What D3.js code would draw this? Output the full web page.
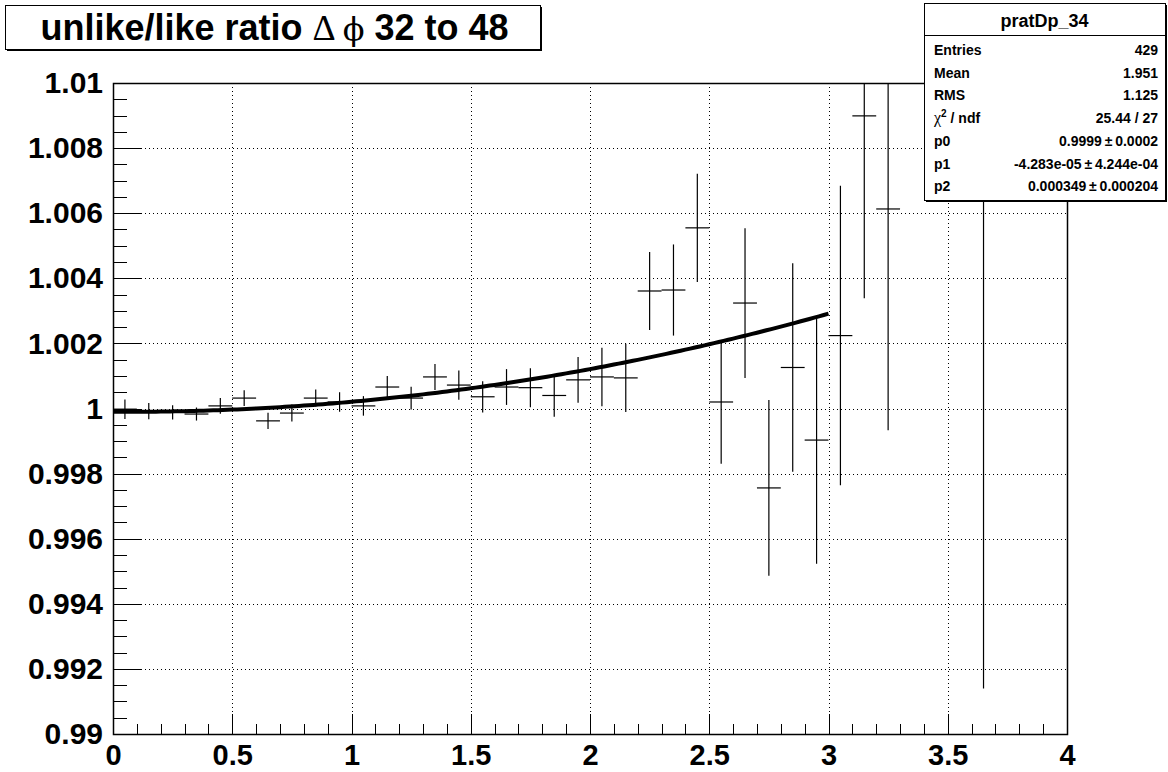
<!DOCTYPE html>
<html>
<head>
<meta charset="utf-8">
<script src="https://cdn.jsdelivr.net/npm/d3@7"></script>
<style>
  body { margin: 0; background: #fff; }
  svg { display: block; font-family: 'Liberation Sans', Arial, sans-serif; }
  .grid line { stroke: #000; stroke-width: 1; stroke-dasharray: 1, 3; }
  .axis path, .axis line { stroke: #000; stroke-width: 1; shape-rendering: crispEdges; }
  .axis text { font-size: 30px; font-weight: bold; fill: #000; }
  .xaxis text { font-size: 29px; }
  .bar { stroke: #000; stroke-width: 1.2; }
</style>
</head>
<body>
<div id="chart"></div>
<script>
// bin centres (width 0.1) with content
const binCenters = [0.05, 0.15, 0.25, 0.35, 0.45, 0.55, 0.65, 0.75, 0.85, 0.95,
  1.05, 1.15, 1.25, 1.35, 1.45, 1.55, 1.65, 1.75, 1.85, 1.95,
  2.05, 2.15, 2.25, 2.35, 2.45, 2.55, 2.65, 2.75, 2.85, 2.95,
  3.05, 3.15, 3.25, 3.65]
const binValues = [0.99998, 0.99992, 0.99988, 0.99983, 1.00008, 1.00032, 0.99962, 0.99986, 1.00032, 1.0002,
  1.00008, 1.00066, 1.00032, 1.00097, 1.00072, 1.00036, 1.00066, 1.00064, 1.0004, 1.00088,
  1.00097, 1.00094, 1.00361, 1.00364, 1.00555, 1.0002, 1.00324, 0.99756, 1.00126, 0.99903,
  1.00224, 1.00899, 1.00613, 1.012]
const binErrors = [0.0003, 0.00025, 0.00022, 0.0002, 0.00024, 0.00024, 0.00025, 0.00026, 0.00026, 0.0003,
  0.0003, 0.00034, 0.00035, 0.0004, 0.00045, 0.00048, 0.00055, 0.0006, 0.00065, 0.0007,
  0.0009, 0.00105, 0.0012, 0.0014, 0.00166, 0.0019, 0.0023, 0.0027, 0.0032, 0.0038,
  0.0046, 0.0056, 0.0068, 0.0206]
const binWidth = 0.1

// pol2 fit, parameters from the stats box
const fitParams = [0.9999, -4.283e-05, 0.000349]
const fitRange = [0, 3]

const xTicks = [0, 0.5, 1, 1.5, 2, 2.5, 3, 3.5, 4]
const yTicks = [0.99, 0.992, 0.994, 0.996, 0.998, 1, 1.002, 1.004, 1.006, 1.008, 1.01]

const statLabels = ['Entries', 'Mean', 'RMS', 'chi2', 'p0', 'p1', 'p2']
const statValues = ['429', '1.951', '1.125', '25.44 / 27', '0.9999\u2009\u00b1\u20090.0002',
  '-4.283e-05\u2009\u00b1\u20094.244e-04', '0.000349\u2009\u00b1\u20090.000204']

const width = 1168
const height = 772
const frame = { left: 113, right: 1067, top: 83, bottom: 734 }

const x = d3.scaleLinear().domain([0, 4]).range([frame.left, frame.right])
const y = d3.scaleLinear().domain([0.99, 1.01]).range([frame.bottom, frame.top])

const svg = d3.select('#chart').append('svg')
  .attr('width', width)
  .attr('height', height)

svg.append('defs').append('clipPath').attr('id', 'clip')
  .append('rect')
  .attr('x', frame.left).attr('y', frame.top)
  .attr('width', frame.right - frame.left).attr('height', frame.bottom - frame.top)

// grid
const grid = svg.append('g').attr('class', 'grid')
grid.selectAll('line.gx').data(xTicks.slice(1, -1)).enter().append('line')
  .attr('x1', d => Math.round(x(d)) + 0.5).attr('x2', d => Math.round(x(d)) + 0.5)
  .attr('y1', frame.top).attr('y2', frame.bottom)
grid.selectAll('line.gy').data(yTicks.slice(1, -1)).enter().append('line')
  .attr('y1', d => Math.round(y(d)) + 0.5).attr('y2', d => Math.round(y(d)) + 0.5)
  .attr('x1', frame.left).attr('x2', frame.right)

// axes: minor ticks then major with labels, ticks point inward
svg.append('g').attr('class', 'axis')
  .attr('transform', 'translate(0,' + frame.bottom + ')')
  .call(d3.axisBottom(x).ticks(40).tickSize(-10).tickFormat(''))
  .call(g => g.select('.domain').remove())
svg.append('g').attr('class', 'axis xaxis')
  .attr('transform', 'translate(0,' + frame.bottom + ')')
  .call(d3.axisBottom(x).tickValues(xTicks).tickSize(-20).tickPadding(0).tickFormat(d3.format('~g')))
  .call(g => g.select('.domain').remove())
  .call(g => g.selectAll('text').attr('y', 31).attr('dy', null))

svg.append('g').attr('class', 'axis')
  .attr('transform', 'translate(' + frame.left + ',0)')
  .call(d3.axisLeft(y).ticks(50).tickSize(-14).tickFormat(''))
  .call(g => g.select('.domain').remove())
svg.append('g').attr('class', 'axis yaxis')
  .attr('transform', 'translate(' + frame.left + ',0)')
  .call(d3.axisLeft(y).tickValues(yTicks).tickSize(-28).tickPadding(10).tickFormat(d3.format('~g')))
  .call(g => g.select('.domain').remove())

// frame
svg.append('rect')
  .attr('x', frame.left + 0.5).attr('y', frame.top + 0.5)
  .attr('width', frame.right - frame.left).attr('height', frame.bottom - frame.top)
  .attr('fill', 'none').attr('stroke', '#000').attr('stroke-width', 1.5)

// histogram points with error bars
const plot = svg.append('g').attr('clip-path', 'url(#clip)')
const bins = binCenters.map((c, i) => ({ c: c, v: binValues[i], e: binErrors[i] }))

plot.selectAll('line.h').data(bins).enter().append('line')
  .attr('class', 'bar')
  .attr('x1', d => x(d.c - binWidth / 2)).attr('x2', d => x(d.c + binWidth / 2))
  .attr('y1', d => y(d.v)).attr('y2', d => y(d.v))
plot.selectAll('line.v').data(bins).enter().append('line')
  .attr('class', 'bar')
  .attr('x1', d => x(d.c)).attr('x2', d => x(d.c))
  .attr('y1', d => y(d.v - d.e)).attr('y2', d => y(d.v + d.e))

// fit curve
const fitX = d3.range(fitRange[0], fitRange[1] + 1e-9, 0.02)
plot.append('path')
  .datum(fitX)
  .attr('fill', 'none')
  .attr('stroke', '#000')
  .attr('stroke-width', 4)
  .attr('d', d3.line()
    .x(d => x(d))
    .y(d => y(fitParams[0] + fitParams[1] * d + fitParams[2] * d * d)))

// title pave
const tb = { x: 5, y: 5, w: 535, h: 44 }
svg.append('rect').attr('x', tb.x + 2).attr('y', tb.y + 2).attr('width', tb.w).attr('height', tb.h).attr('fill', '#000')
svg.append('rect').attr('x', tb.x + 0.5).attr('y', tb.y + 0.5).attr('width', tb.w).attr('height', tb.h)
  .attr('fill', '#fff').attr('stroke', '#000')
const title = svg.append('text')
  .attr('x', tb.x + tb.w / 2 + 2).attr('y', tb.y + 35)
  .attr('text-anchor', 'middle')
  .attr('font-size', 36).attr('font-weight', 'bold')
title.append('tspan').text('unlike/like ratio ')
title.append('tspan').attr('font-family', 'Liberation Serif').attr('font-weight', 'normal').text('\u0394 ')
title.append('tspan').attr('font-family', 'DejaVu Serif').attr('font-weight', 'normal').attr('font-size', 32).text('\u03d5')
title.append('tspan').text(' 32 to 48')

// stats box
const sb = { x: 924, y: 3, w: 241, h: 197 }
svg.append('rect').attr('x', sb.x + 2).attr('y', sb.y + 2).attr('width', sb.w).attr('height', sb.h).attr('fill', '#000')
svg.append('rect').attr('x', sb.x + 0.5).attr('y', sb.y + 0.5).attr('width', sb.w).attr('height', sb.h)
  .attr('fill', '#fff').attr('stroke', '#000')
svg.append('line').attr('x1', sb.x).attr('x2', sb.x + sb.w).attr('y1', 35.5).attr('y2', 35.5).attr('stroke', '#000')
svg.append('text')
  .attr('x', sb.x + sb.w / 2).attr('y', 27)
  .attr('text-anchor', 'middle').attr('font-size', 18).attr('font-weight', 'bold')
  .text('pratDp_34')

const rowStep = 22.7
statLabels.forEach((lab, i) => {
  const yy = 55 + i * rowStep
  const t = svg.append('text').attr('x', sb.x + 10).attr('y', yy)
    .attr('font-size', 14).attr('font-weight', 'bold')
  if (lab === 'chi2') {
    t.append('tspan').attr('font-family', 'Liberation Serif').attr('font-weight', 'normal').attr('font-size', 16).text('\u03c7')
    t.append('tspan').attr('font-size', 10).attr('dy', -6).text('2')
    t.append('tspan').attr('dy', 6).text(' / ndf')
  } else {
    t.text(lab)
  }
  svg.append('text').attr('x', sb.x + sb.w - 7).attr('y', yy)
    .attr('text-anchor', 'end').attr('font-size', 14).attr('font-weight', 'bold')
    .text(statValues[i])
})
</script>
</body>
</html>
